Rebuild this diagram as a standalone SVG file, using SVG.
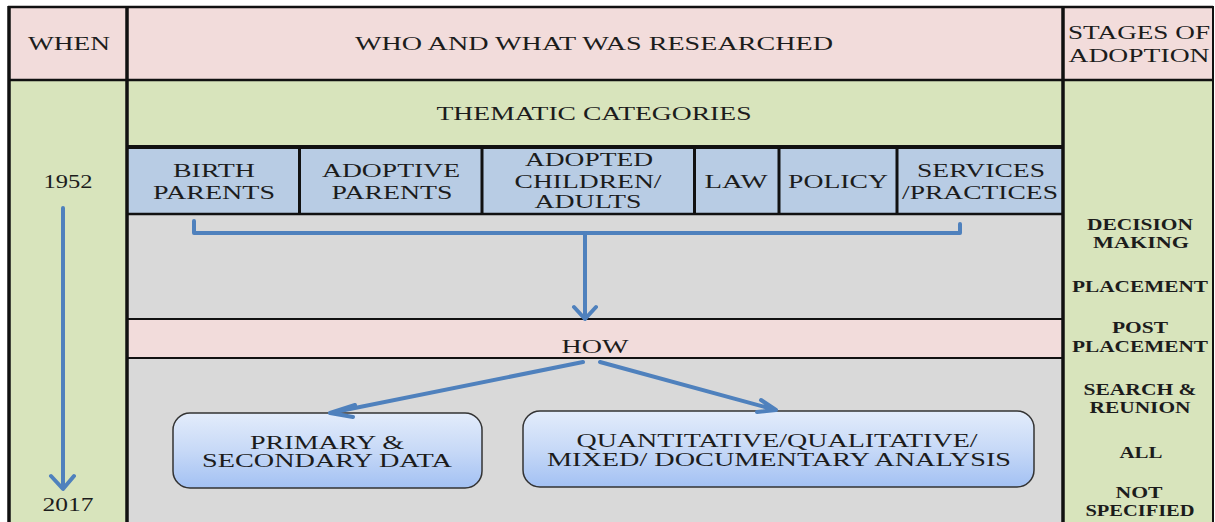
<svg xmlns="http://www.w3.org/2000/svg" width="1215" height="522" viewBox="0 0 1215 522">
<defs>
<linearGradient id="bx" x1="0" y1="0" x2="0" y2="1">
<stop offset="0" stop-color="#e3ecfb"/>
<stop offset="0.5" stop-color="#c7d9f7"/>
<stop offset="1" stop-color="#a3c1f3"/>
</linearGradient>
</defs>
<rect x="0" y="0" width="1215" height="522" fill="#ffffff"/>

<g id="header">
<rect x="9" y="7" width="1204" height="73" fill="#f2dcdb"/>
<text font-family="Liberation Serif" font-size="18" fill="#1c1c1c" text-anchor="middle" x="69" y="50" textLength="82" lengthAdjust="spacingAndGlyphs">WHEN</text>
<text font-family="Liberation Serif" font-size="18" fill="#1c1c1c" text-anchor="middle" x="594" y="50" textLength="478" lengthAdjust="spacingAndGlyphs">WHO AND WHAT WAS RESEARCHED</text>
<text font-family="Liberation Serif" font-size="18" fill="#1c1c1c" text-anchor="middle" x="1139" y="39" textLength="142" lengthAdjust="spacingAndGlyphs">STAGES OF</text>
<text font-family="Liberation Serif" font-size="18" fill="#1c1c1c" text-anchor="middle" x="1139" y="62" textLength="141" lengthAdjust="spacingAndGlyphs">ADOPTION</text>
</g>

<g id="when-column">
<rect x="9" y="80" width="117" height="442" fill="#d8e4bc"/>
<text font-family="Liberation Serif" font-size="18" fill="#1c1c1c" text-anchor="middle" x="68" y="188" textLength="49" lengthAdjust="spacingAndGlyphs">1952</text>
<text font-family="Liberation Serif" font-size="18" fill="#1c1c1c" text-anchor="middle" x="68" y="511" textLength="51" lengthAdjust="spacingAndGlyphs">2017</text>
</g>

<g id="thematic-categories">
<rect x="126" y="80" width="936" height="67" fill="#d8e4bc"/>
<text font-family="Liberation Serif" font-size="18" fill="#1c1c1c" text-anchor="middle" x="594" y="120" textLength="315" lengthAdjust="spacingAndGlyphs">THEMATIC CATEGORIES</text>
</g>

<g id="gray-area">
<rect x="126" y="214" width="936" height="105" fill="#d9d9d9"/>
<rect x="126" y="358" width="936" height="164" fill="#d9d9d9"/>
</g>

<g id="cat-birth-parents">
<rect x="126" y="147" width="173" height="67" fill="#b8cce4"/>
<text font-family="Liberation Serif" font-size="18" fill="#1c1c1c" text-anchor="middle" x="214" y="177" textLength="82" lengthAdjust="spacingAndGlyphs">BIRTH</text>
<text font-family="Liberation Serif" font-size="18" fill="#1c1c1c" text-anchor="middle" x="214" y="199" textLength="122" lengthAdjust="spacingAndGlyphs">PARENTS</text>
</g>
<g id="cat-adoptive-parents">
<rect x="299" y="147" width="183" height="67" fill="#b8cce4"/>
<text font-family="Liberation Serif" font-size="18" fill="#1c1c1c" text-anchor="middle" x="391" y="177" textLength="138" lengthAdjust="spacingAndGlyphs">ADOPTIVE</text>
<text font-family="Liberation Serif" font-size="18" fill="#1c1c1c" text-anchor="middle" x="392" y="199" textLength="121" lengthAdjust="spacingAndGlyphs">PARENTS</text>
</g>
<g id="cat-adopted">
<rect x="482" y="147" width="212" height="67" fill="#b8cce4"/>
<text font-family="Liberation Serif" font-size="18" fill="#1c1c1c" text-anchor="middle" x="589" y="166" textLength="128" lengthAdjust="spacingAndGlyphs">ADOPTED</text>
<text font-family="Liberation Serif" font-size="18" fill="#1c1c1c" text-anchor="middle" x="588" y="188" textLength="147" lengthAdjust="spacingAndGlyphs">CHILDREN/</text>
<text font-family="Liberation Serif" font-size="18" fill="#1c1c1c" text-anchor="middle" x="588" y="208" textLength="107" lengthAdjust="spacingAndGlyphs">ADULTS</text>
</g>
<g id="cat-law">
<rect x="694" y="147" width="85" height="67" fill="#b8cce4"/>
<text font-family="Liberation Serif" font-size="18" fill="#1c1c1c" text-anchor="middle" x="736" y="188" textLength="63" lengthAdjust="spacingAndGlyphs">LAW</text>
</g>
<g id="cat-policy">
<rect x="779" y="147" width="118" height="67" fill="#b8cce4"/>
<text font-family="Liberation Serif" font-size="18" fill="#1c1c1c" text-anchor="middle" x="838" y="188" textLength="100" lengthAdjust="spacingAndGlyphs">POLICY</text>
</g>
<g id="cat-services">
<rect x="897" y="147" width="165" height="67" fill="#b8cce4"/>
<text font-family="Liberation Serif" font-size="18" fill="#1c1c1c" text-anchor="middle" x="981" y="177" textLength="128" lengthAdjust="spacingAndGlyphs">SERVICES</text>
<text font-family="Liberation Serif" font-size="18" fill="#1c1c1c" text-anchor="middle" x="980" y="199" textLength="156" lengthAdjust="spacingAndGlyphs">/PRACTICES</text>
</g>

<g id="how">
<rect x="126" y="319" width="936" height="39" fill="#f2dcdb"/>
<text font-family="Liberation Serif" font-size="18" fill="#1c1c1c" text-anchor="middle" x="595" y="353" textLength="67" lengthAdjust="spacingAndGlyphs">HOW</text>
</g>

<g id="stages-column">
<rect x="1062" y="80" width="151" height="442" fill="#d8e4bc"/>
<text font-family="Liberation Serif" font-size="16" font-weight="bold" fill="#1c1c1c" text-anchor="middle" x="1140" y="230" textLength="106" lengthAdjust="spacingAndGlyphs">DECISION</text>
<text font-family="Liberation Serif" font-size="16" font-weight="bold" fill="#1c1c1c" text-anchor="middle" x="1141" y="248" textLength="96" lengthAdjust="spacingAndGlyphs">MAKING</text>
<text font-family="Liberation Serif" font-size="16" font-weight="bold" fill="#1c1c1c" text-anchor="middle" x="1140" y="292" textLength="136" lengthAdjust="spacingAndGlyphs">PLACEMENT</text>
<text font-family="Liberation Serif" font-size="16" font-weight="bold" fill="#1c1c1c" text-anchor="middle" x="1140" y="333" textLength="56" lengthAdjust="spacingAndGlyphs">POST</text>
<text font-family="Liberation Serif" font-size="16" font-weight="bold" fill="#1c1c1c" text-anchor="middle" x="1140" y="352" textLength="136" lengthAdjust="spacingAndGlyphs">PLACEMENT</text>
<text font-family="Liberation Serif" font-size="16" font-weight="bold" fill="#1c1c1c" text-anchor="middle" x="1140" y="395" textLength="113" lengthAdjust="spacingAndGlyphs">SEARCH &amp;</text>
<text font-family="Liberation Serif" font-size="16" font-weight="bold" fill="#1c1c1c" text-anchor="middle" x="1140" y="413" textLength="101" lengthAdjust="spacingAndGlyphs">REUNION</text>
<text font-family="Liberation Serif" font-size="16" font-weight="bold" fill="#1c1c1c" text-anchor="middle" x="1141" y="458" textLength="43" lengthAdjust="spacingAndGlyphs">ALL</text>
<text font-family="Liberation Serif" font-size="16" font-weight="bold" fill="#1c1c1c" text-anchor="middle" x="1139" y="498" textLength="47" lengthAdjust="spacingAndGlyphs">NOT</text>
<text font-family="Liberation Serif" font-size="16" font-weight="bold" fill="#1c1c1c" text-anchor="middle" x="1140" y="516" textLength="109" lengthAdjust="spacingAndGlyphs">SPECIFIED</text>
</g>

<g id="grid-lines" fill="none" stroke="#111">
<path stroke-width="2.5" d="M8,7 H1213 M8,80 H1213 M126,214 H1062"/>
<path stroke-width="2" d="M126,319 H1062 M126,358 H1062"/>
<path stroke-width="4" d="M126,147 H1062"/>
<path stroke-width="3.5" d="M9,6 V522 M127,6 V522 M1063,6 V522"/>
<path stroke-width="2" d="M1213,6 V522"/>
<path stroke-width="3" d="M299.5,147 V214 M482,147 V214 M694.5,147 V214 M779,147 V214 M897,147 V214"/>
</g>

<g id="method-primary">
<rect x="173" y="413" width="309" height="75" rx="17" fill="url(#bx)" stroke="#333" stroke-width="1.5"/>
<text font-family="Liberation Serif" font-size="18" fill="#1c1c1c" text-anchor="middle" x="327" y="449" textLength="154" lengthAdjust="spacingAndGlyphs">PRIMARY &amp;</text>
<text font-family="Liberation Serif" font-size="18" fill="#1c1c1c" text-anchor="middle" x="327" y="467" textLength="250" lengthAdjust="spacingAndGlyphs">SECONDARY DATA</text>
</g>
<g id="method-analysis">
<rect x="523" y="411" width="511" height="76" rx="17" fill="url(#bx)" stroke="#333" stroke-width="1.5"/>
<text font-family="Liberation Serif" font-size="18" fill="#1c1c1c" text-anchor="middle" x="777" y="447" textLength="401" lengthAdjust="spacingAndGlyphs">QUANTITATIVE/QUALITATIVE/</text>
<text font-family="Liberation Serif" font-size="18" fill="#1c1c1c" text-anchor="middle" x="779" y="466" textLength="464" lengthAdjust="spacingAndGlyphs">MIXED/ DOCUMENTARY  ANALYSIS</text>
</g>

<g id="connectors" fill="none" stroke="#4f81bd" stroke-width="4" stroke-linecap="round" stroke-linejoin="round">
<path d="M63,208 V488 M51,476 L63,489 L74,476"/>
<path d="M194,221 V233 H960 V224"/>
<path d="M585,233 V319 M574,307 L585,319 L596,307"/>
<path d="M583,362 L330,413 M355,405 L330,413 L353,417"/>
<path d="M600,362 L776,410 M761,400 L776,410 L757,412"/>
</g>
</svg>
